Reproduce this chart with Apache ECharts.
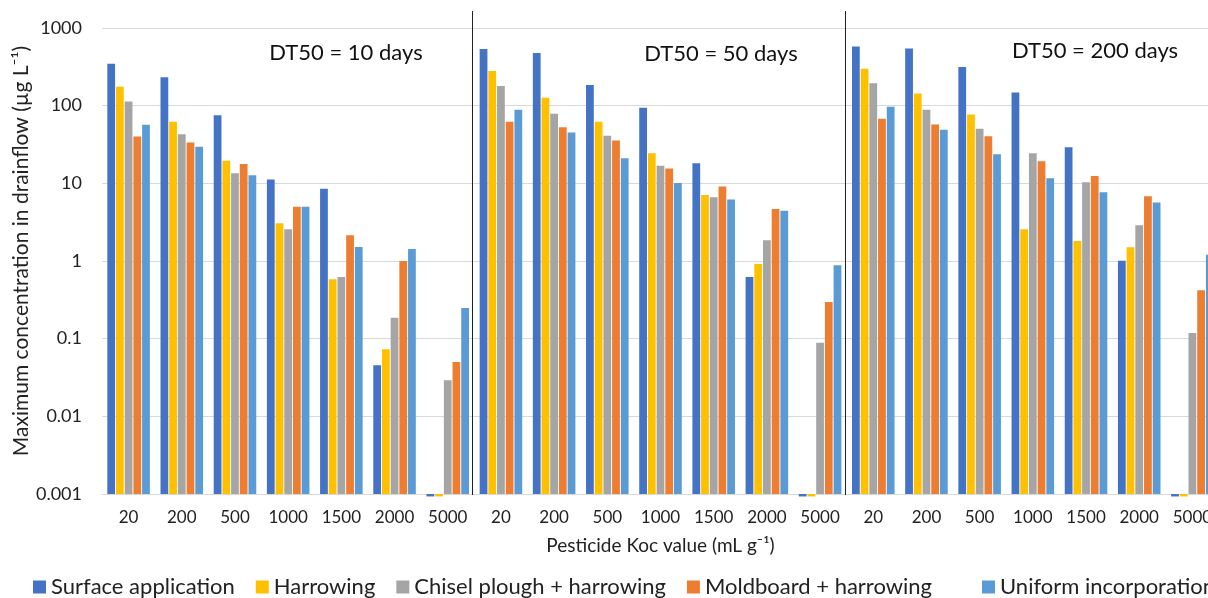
<!DOCTYPE html>
<html>
<head>
<meta charset="utf-8">
<script src="https://cdn.jsdelivr.net/npm/echarts@6/dist/echarts.min.js"></script>
<style>html,body{margin:0;padding:0;background:#fff}#c{width:1208px;height:598px}</style>
</head>
<body>
<div id="c"></div>
<script>
// ---- data ----
const kocLabels = ['20','200','500','1000','1500','2000','5000'];
const groups = ['DT50 = 10 days','DT50 = 50 days','DT50 = 200 days'];
const seriesNames = ['Surface application','Harrowing','Chisel plough + harrowing','Moldboard + harrowing','Uniform incorporation'];
const yTickLabels = ['0.001','0.01','0.1','1','10','100','1000'];
// values per series: DT50=10 (7), DT50=50 (7), DT50=200 (7)
const surface   = [347, 233, 75.5, 11.2, 8.5, 0.0456, 0.00093,  536, 476, 184, 94, 18.1, 0.62, 0.00093,  579, 546, 314, 148, 29.2, 1.01, 0.00093];
const harrowing = [175, 62, 19.5, 3.06, 0.58, 0.0728, 0.00093,  279, 126, 62, 24.4, 7.1, 0.915, 0.00093,  299, 143.6, 77, 2.56, 1.81, 1.5, 0.00093];
const chisel    = [113, 43, 13.5, 2.56, 0.62, 0.186, 0.0292,   179, 78.5, 40.9, 16.8, 6.6, 1.85, 0.0886,  195, 88.5, 50.3, 24.4, 10.3, 2.88, 0.118];
const moldboard = [40, 33.5, 17.8, 5.0, 2.14, 1.0, 0.0499,     62, 52.8, 35.6, 15.5, 9.1, 4.68, 0.296,    67.7, 57.2, 40.5, 19.3, 12.4, 6.8, 0.419];
const uniform   = [57, 29.5, 12.7, 5.0, 1.51, 1.43, 0.248,     88.6, 45.2, 21.1, 10.1, 6.2, 4.42, 0.88,   96.7, 48.9, 23.7, 11.6, 7.7, 5.65, 1.2];
const colors = ['#4472C4','#FFC000','#A5A5A5','#ED7D31','#5B9BD5'];

const categories = [].concat(kocLabels, kocLabels, kocLabels);
const allValues = [surface, harrowing, chisel, moldboard, uniform];
const FONT = 'Lato, "Open Sans", sans-serif';

const chart = echarts.init(document.getElementById('c'));
const option = {
  animation: false,
  color: colors,
  textStyle: { fontFamily: FONT, color: '#222' },
  grid: { left: 102, width: 1117, top: 28, height: 466, containLabel: false, outerBoundsMode: 'none' },
  legend: [
    { data: seriesNames.slice(0,4), left: 28, top: 571, itemWidth: 13, itemHeight: 13, itemGap: 21, itemTextGap: 6,
      icon: 'rect', textStyle: { fontSize: 22, fontFamily: FONT, color: '#222' }, selectedMode: false },
    { data: seriesNames.slice(4), left: 977, top: 571, itemWidth: 13, itemHeight: 13, itemTextGap: 6,
      icon: 'rect', textStyle: { fontSize: 22, fontFamily: FONT, color: '#222' }, selectedMode: false }
  ],
  xAxis: {
    type: 'category', data: categories,
    axisTick: { show: false },
    axisLine: { show: true, lineStyle: { color: '#D9D9D9', width: 1 } },
    axisLabel: { fontSize: 17, color: '#222', margin: 15, interval: 0, fontFamily: FONT },
    name: 'Pesticide Koc value (mL g\u207B\u00B9)', nameLocation: 'middle', nameGap: 42,
    nameTextStyle: { fontSize: 19, color: '#222', fontFamily: FONT }
  },
  yAxis: {
    type: 'log', logBase: 10, min: 0.001, max: 1000, startValue: 0.001,
    axisLine: { show: false }, axisTick: { show: false },
    splitLine: { lineStyle: { color: '#D9D9D9', width: 1 } },
    axisLabel: { fontSize: 18, color: '#222', margin: 20, fontFamily: FONT,
      formatter: function (v) { const i = Math.round(Math.log10(v)) + 3; return yTickLabels[i] !== undefined ? yTickLabels[i] : ''; } },
    name: 'Maximum concentration in drainflow (\u00B5g L\u207B\u00B9)', nameLocation: 'middle', nameGap: 70,
    nameMoveOverlap: false,
    nameTextStyle: { fontSize: 21, color: '#222', fontFamily: FONT, padding: [0, 0, 0, 20] }
  },
  series: seriesNames.map((n, i) => ({
    name: n, type: 'bar', data: allValues[i], clip: false,
    barGap: '12%', barCategoryGap: '20%',
    itemStyle: { color: colors[i] }
  }))
};
chart.setOption(option);

// group separators and DT50 annotations
function px(idx, val) { return chart.convertToPixel({ gridIndex: 0 }, [idx, val]); }
const n = kocLabels.length;
const graphics = [];
[n - 0.5, 2 * n - 0.5].forEach(b => {
  const a = px(Math.floor(b), 0.001), c = px(Math.ceil(b), 0.001);
  const x = Math.round((a[0] + c[0]) / 2 - 2) + 0.5;
  graphics.push({ type: 'line', shape: { x1: x, y1: 11, x2: x, y2: a[1] + 1 }, style: { stroke: '#222', lineWidth: 1 }, z: 10 });
});
const annPos = [[346, 53], [721, 54], [1095, 51]];
groups.forEach((g, k) => {
  graphics.push({ type: 'text', x: annPos[k][0], y: annPos[k][1], style: { text: g, font: '22px ' + FONT, fill: '#111', align: 'center', verticalAlign: 'middle' }, z: 10 });
});
chart.setOption({ graphic: graphics });
</script>
</body>
</html>
